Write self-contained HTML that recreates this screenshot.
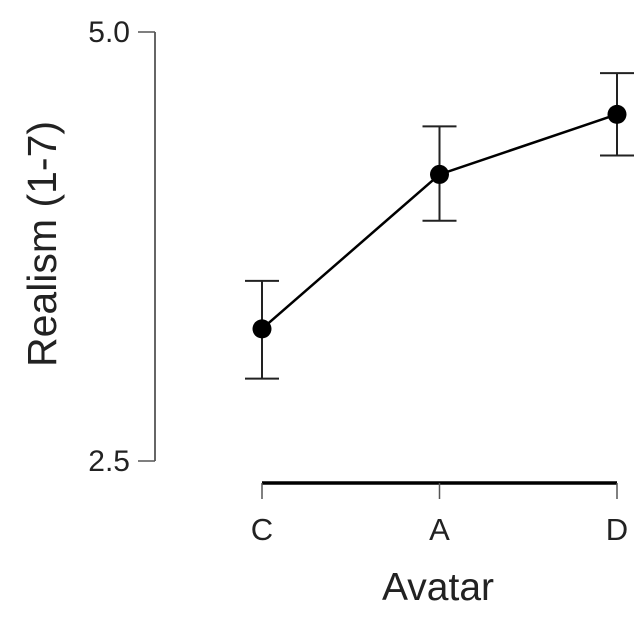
<!DOCTYPE html>
<html><head><meta charset="utf-8"><style>
body{margin:0;background:#fff}
svg{display:block;font-family:"Liberation Sans",sans-serif}
</style></head><body>
<svg id="chart" width="640" height="628">
<g id="axes"></g>
<g id="marks"></g>
</svg>
<script>
const categories = ["C","A","D"];
const means = [3.27, 4.17, 4.52];
const upper = [3.55, 4.45, 4.76];
const lower = [2.98, 3.90, 4.28];
const yTicks = [2.5, 5.0];
const yTickLabels = ["2.5","5.0"];

const NS="http://www.w3.org/2000/svg";
const y = v => 461 - (v-2.5)*(461-32)/2.5;
const x = i => 262 + i*(617-262)/(categories.length-1);
function mk(tag, attrs, parent, text){
  const e=document.createElementNS(NS,tag);
  for(const k in attrs)e.setAttribute(k,attrs[k]);
  if(text!==undefined)e.textContent=text;
  parent.appendChild(e);return e;
}
const axes=document.getElementById('axes'), marks=document.getElementById('marks');
let e;
e=mk('line',{x1:155,x2:155,y1:y(yTicks[0]),y2:y(yTicks[yTicks.length-1]),stroke:'#333','stroke-width':1.5},axes);


yTicks.forEach((t,i)=>{
  e=mk('line',{x1:138,x2:155,y1:y(t),y2:y(t),stroke:'#555','stroke-width':1.5},axes);
  
  
  e=mk('text',{x:130,y:y(t)+10,'text-anchor':'end','font-size':30,fill:'#222'},axes,yTickLabels[i]);
  
  
});
e=mk('line',{x1:x(0),x2:x(categories.length-1),y1:483,y2:483,stroke:'#000','stroke-width':3.5},axes);


categories.forEach((c,i)=>{
  e=mk('line',{x1:x(i),x2:x(i),y1:483,y2:499,stroke:'#555','stroke-width':1.5},axes);
  
  
  e=mk('text',{x:x(i),y:540,'text-anchor':'middle','font-size':31,fill:'#222'},axes,c);
  
  
});
e=mk('text',{x:438,y:600,'text-anchor':'middle','font-size':39,fill:'#222'},axes,'Avatar');


e=mk('text',{x:0,y:0,'text-anchor':'middle','font-size':41,fill:'#222',transform:'translate(56,244) rotate(-90)'},axes,'Realism (1-7)');



e=mk('polyline',{points:means.map((m,i)=>x(i)+','+y(m)).join(' '),fill:'none',stroke:'#000','stroke-width':2.5},marks);


means.forEach((m,i)=>{
  const g=mk('g',{},marks);
  
  
  mk('line',{x1:x(i),x2:x(i),y1:y(upper[i]),y2:y(lower[i]),stroke:'#222','stroke-width':2},g);
  mk('line',{x1:x(i)-17,x2:x(i)+17,y1:y(upper[i]),y2:y(upper[i]),stroke:'#222','stroke-width':2},g);
  mk('line',{x1:x(i)-17,x2:x(i)+17,y1:y(lower[i]),y2:y(lower[i]),stroke:'#222','stroke-width':2},g);
  e=mk('circle',{cx:x(i),cy:y(m),r:9.5,fill:'#000'},marks);
  
  
});
</script>
</body></html>
